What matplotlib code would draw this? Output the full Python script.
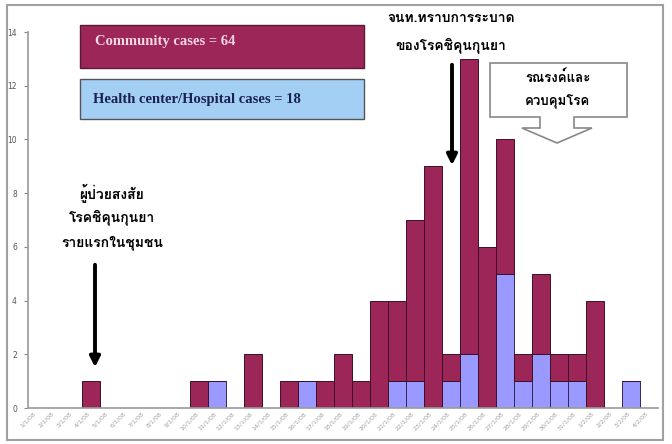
import matplotlib
matplotlib.use("Agg")
import matplotlib.pyplot as plt
from matplotlib import font_manager
from matplotlib.ft2font import FT2Font
from matplotlib.patches import Rectangle, Polygon

# --- data ---
dates = ["1/1/08", "2/1/08", "3/1/08", "4/1/08", "5/1/08", "6/1/08", "7/1/08",
         "8/1/08", "9/1/08", "10/1/08", "11/1/08", "12/1/08", "13/1/08", "14/1/08",
         "15/1/08", "16/1/08", "17/1/08", "18/1/08", "19/1/08", "20/1/08", "21/1/08",
         "22/1/08", "23/1/08", "24/1/08", "25/1/08", "26/1/08", "27/1/08", "28/1/08",
         "29/1/08", "30/1/08", "31/1/08", "1/2/08", "2/2/08", "3/2/08", "4/2/08"]
hospital = [0, 0, 0, 0, 0, 0, 0, 0, 0, 0, 1, 0, 0, 0, 0, 1, 0, 0, 0, 0, 1, 1,
            0, 1, 2, 0, 5, 1, 2, 1, 1, 0, 0, 1, 0]
community = [0, 0, 0, 1, 0, 0, 0, 0, 0, 1, 0, 0, 2, 0, 1, 0, 1, 2, 1, 4, 3, 6,
             9, 1, 11, 6, 5, 1, 3, 1, 1, 4, 0, 0, 0]
y_ticks = [0, 2, 4, 6, 8, 10, 12, 14]

RED = "#9c2658"
BLUE = "#9999ff"
W, H = 672, 444


def find_thai_font():
    # first installed family that has Thai glyphs
    for f in font_manager.fontManager.ttflist:
        try:
            if 0x0E01 in FT2Font(f.fname).get_charmap():
                return f.name
        except Exception:
            pass
    return "DejaVu Sans"


thai = find_thai_font()


def px(x, y):
    return x / W, 1 - y / H


fig = plt.figure(figsize=(6.72, 4.44), dpi=100)
ax = fig.add_axes([28 / W, 1 - 408 / H, 630 / W, (408 - 32) / H])

x = list(range(len(dates)))
ax.bar(x, hospital, width=1.0, color=BLUE, edgecolor="#33284f", linewidth=0.7)
ax.bar(x, community, width=1.0, bottom=hospital, color=RED,
       edgecolor="#3d1027", linewidth=0.7)

ax.set_xlim(-0.5, len(dates) - 0.5)
ax.set_ylim(0, 14)
ax.set_yticks(y_ticks)
ax.set_yticklabels([str(v) for v in y_ticks], fontsize=5.5, color="#555555")
ax.set_xticks(x)
ax.set_xticklabels(dates, rotation=45, ha="right", fontsize=4.5, color="#a0a0a0")
ax.tick_params(axis="y", length=3, color="#888888", pad=5)
ax.tick_params(axis="x", length=0, pad=2)
for s in ["top", "right"]:
    ax.spines[s].set_visible(False)
for s in ["left", "bottom"]:
    ax.spines[s].set_color("#999999")
    ax.spines[s].set_linewidth(1.2)

# outer chart border
fig.add_artist(Rectangle(px(7, 440), 656 / W, 435 / H, transform=fig.transFigure,
                         fill=False, edgecolor="#a0a0a0", linewidth=1.5))

# legend-like boxes
fig.add_artist(Rectangle(px(80, 68), 284 / W, 43 / H, transform=fig.transFigure,
                         facecolor=RED, edgecolor="#5a1a35", linewidth=1))
fig.text(*px(95, 41), "Community cases = 64", fontsize=10.5, fontweight="bold",
         family="Liberation Serif", color="#f4d8e4", va="center", ha="left")
fig.add_artist(Rectangle(px(80, 119), 284 / W, 40 / H, transform=fig.transFigure,
                         facecolor="#a3cff5", edgecolor="#555555", linewidth=1))
fig.text(*px(93, 100), "Health center/Hospital cases = 18", fontsize=10.5,
         fontweight="bold", family="Liberation Serif", color="#1a2050",
         va="center", ha="left")

# annotation: first case
for txt, yy in [("ผู้ป่วยสงสัย", 193), ("โรคชิคุนกุนยา", 217), ("รายแรกในชุมชน", 243)]:
    fig.text(*px(112, yy), txt, fontsize=10, fontweight="bold", family=thai,
             ha="center", va="center")
ax.annotate("", xy=px(95, 370), xytext=px(95, 262), xycoords="figure fraction",
            arrowprops=dict(arrowstyle="-|>", lw=2.8, color="black",
                            mutation_scale=15))

# annotation: outbreak known
for txt, yy in [("จนท.ทราบการระบาด", 19), ("ของโรคชิคุนกุนยา", 45)]:
    fig.text(*px(451, yy), txt, fontsize=10, fontweight="bold", family=thai,
             ha="center", va="center")
ax.annotate("", xy=px(452, 168), xytext=px(452, 62), xycoords="figure fraction",
            arrowprops=dict(arrowstyle="-|>", lw=2.8, color="black",
                            mutation_scale=15))

# callout box with down arrow
pts = [(490, 63), (627, 63), (627, 117), (574, 117), (574, 128), (592, 128),
       (557, 143), (522, 128), (540, 128), (540, 117), (490, 117)]
fig.add_artist(Polygon([px(a, b) for a, b in pts], closed=True,
                       transform=fig.transFigure, facecolor="white",
                       edgecolor="#888888", linewidth=1.2))
for txt, yy in [("รณรงค์และ", 78), ("ควบคุมโรค", 101)]:
    fig.text(*px(558, yy), txt, fontsize=9.5, fontweight="bold", family=thai,
             ha="center", va="center")

fig.savefig("out.png", dpi=100)
